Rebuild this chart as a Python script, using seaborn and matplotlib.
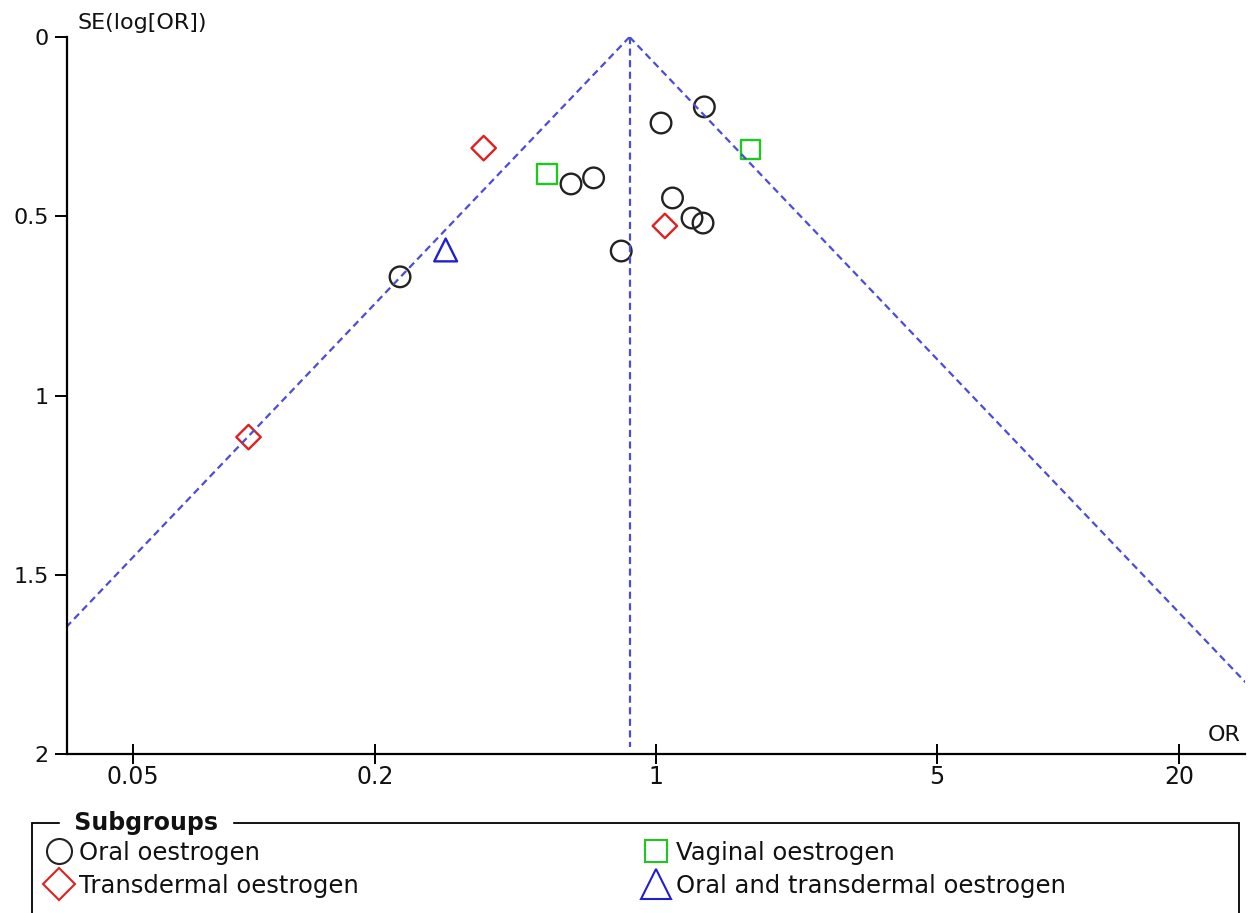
import numpy as np
import pandas as pd
import matplotlib
matplotlib.use("Agg")
import matplotlib.pyplot as plt
import seaborn as sns
from matplotlib.lines import Line2D
from matplotlib.patches import Rectangle

# données (OR, SE(log[OR]))
oral_or = [1.32, 1.03, 0.615, 0.70, 1.10, 1.23, 1.31, 0.82, 0.231]
oral_se = [0.195, 0.24, 0.41, 0.393, 0.449, 0.505, 0.519, 0.597, 0.669]
vaginal_or = [0.536, 1.72]
vaginal_se = [0.382, 0.315]
transdermal_or = [0.373, 1.053, 0.097]
transdermal_se = [0.31, 0.527, 1.116]
mixte_or = [0.300]
mixte_se = [0.594]

or_global = 0.86  # estimation poolée (sommet de l'entonnoir)

groupes = ["Oral oestrogen", "Vaginal oestrogen", "Transdermal oestrogen",
           "Oral and transdermal oestrogen"]
couleurs = {"Oral oestrogen": "#222222", "Vaginal oestrogen": "#1ec81e",
            "Transdermal oestrogen": "#e02020",
            "Oral and transdermal oestrogen": "#2020d0"}
marqueurs = {"Oral oestrogen": "o", "Vaginal oestrogen": "s",
             "Transdermal oestrogen": "D", "Oral and transdermal oestrogen": "^"}
tailles = {"o": 220, "s": 190, "D": 155, "^": 270}

df = pd.DataFrame({
    "OR": oral_or + vaginal_or + transdermal_or + mixte_or,
    "SE": oral_se + vaginal_se + transdermal_se + mixte_se,
    "Groupe": [groupes[0]] * len(oral_or) + [groupes[1]] * len(vaginal_or)
              + [groupes[2]] * len(transdermal_or) + [groupes[3]] * len(mixte_or),
})

sns.set_style("white")
plt.rcParams["font.family"] = ["DejaVu Sans"]

fig = plt.figure(figsize=(12.48, 9.13), dpi=100)
ax = fig.add_axes([0.0537, 0.1741, 0.9439, 0.7854])

# entonnoir
se_grille = np.linspace(0, 2, 50)
bleu = "#4c4cd8"
tirets = (0, (3.2, 2.0))
ax.plot(or_global * np.exp(-1.96 * se_grille), se_grille, ls=tirets, color=bleu, lw=1.6)
ax.plot(or_global * np.exp(1.96 * se_grille), se_grille, ls=tirets, color=bleu, lw=1.6)
ax.plot([or_global, or_global], [0, 1.98], ls=tirets, color=bleu, lw=1.6)

# points par sous-groupe
for g in groupes:
    sous = df[df["Groupe"] == g]
    m = marqueurs[g]
    avant = len(ax.collections)
    sns.scatterplot(data=sous, x="OR", y="SE", marker=m, s=tailles[m], ax=ax,
                    color=couleurs[g], linewidth=1.7, legend=False)
    for coll in ax.collections[avant:]:
        coll.set_facecolor("none")
        coll.set_edgecolor(couleurs[g])
        coll.set_linewidth(1.7)

ax.set_xscale("log")
ax.set_xlim(0.0343, 29.2)
ax.set_ylim(2, 0)
ax.set_xlabel("")
ax.set_ylabel("")

ax.xaxis.set_major_locator(matplotlib.ticker.FixedLocator([0.05, 0.2, 1, 5, 20]))
ax.xaxis.set_major_formatter(matplotlib.ticker.FixedFormatter(["0.05", "0.2", "1", "5", "20"]))
ax.xaxis.set_minor_locator(matplotlib.ticker.NullLocator())
ax.set_yticks([0, 0.5, 1, 1.5, 2])
ax.set_yticklabels(["0", "0.5", "1", "1.5", "2"])

for cote in ["top", "right"]:
    ax.spines[cote].set_visible(False)
for cote in ["left", "bottom"]:
    ax.spines[cote].set_color("black")
    ax.spines[cote].set_linewidth(1.6)

ax.tick_params(axis="x", direction="inout", length=14, width=1.4, labelsize=17, pad=1,
               bottom=True, labelcolor="#111111", color="black")
ax.tick_params(axis="y", direction="out", length=9, width=1.4, labelsize=16, pad=4,
               left=True, labelcolor="#111111", color="black")
ax.grid(False)

ax.text(0.009, 1.005, "SE(log[OR])", transform=ax.transAxes, fontsize=16,
        ha="left", va="bottom", color="#111111")
ax.text(0.9965, 0.012, "OR", transform=ax.transAxes, fontsize=16,
        ha="right", va="bottom", color="#111111")

# légende encadrée
cadre = Rectangle((32 / 1248, -0.01), 1207 / 1248, 0.1089, transform=fig.transFigure,
                  fill=False, edgecolor="black", lw=1.3, clip_on=False)
fig.patches.append(cadre)
fig.text(66 / 1248, 0.0989, " Subgroups ", fontsize=17, fontweight="bold",
         ha="left", va="center", backgroundcolor="white", color="#111111")


def poignee(g):
    m = marqueurs[g]
    taille = {"o": 18, "s": 16, "D": 16, "^": 21}[m]
    return Line2D([], [], ls="none", marker=m, markersize=taille,
                  markerfacecolor="none", markeredgecolor=couleurs[g],
                  markeredgewidth=1.5, label=g)


for paire, x0 in [((groupes[0], groupes[2]), 33), ((groupes[1], groupes[3]), 630)]:
    fig.legend(handles=[poignee(paire[0]), poignee(paire[1])], loc="upper left",
               bbox_to_anchor=(x0 / 1248, 0.0925), frameon=False, fontsize=17.5,
               handletextpad=0.3, labelspacing=0.38, handlelength=1.1, borderpad=0,
               labelcolor="#111111")

fig.savefig("out.png", dpi=100)
